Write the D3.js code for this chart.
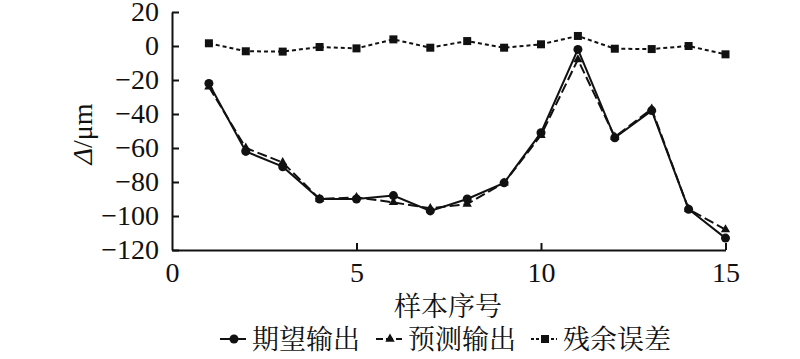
<!DOCTYPE html>
<html>
<head>
<meta charset="utf-8">
<script src="https://cdn.jsdelivr.net/npm/d3@7"></script>
<style>
  html, body { margin: 0; padding: 0; background: #fff; }
  svg { display: block; }
</style>
</head>
<body>
<svg id="chart" width="800" height="359"></svg>
<script>
// ---- data ----
const samples = [1,2,3,4,5,6,7,8,9,10,11,12,13,14,15];
const expected = [-22,-62,-71,-90,-90,-88,-97,-90,-80.5,-51,-2,-54,-38,-96,-113];
const predicted = [-24,-60,-68.5,-90,-89,-92,-95.5,-93,-80.5,-52.5,-8,-53.5,-37,-96,-108];
const residual = [1.6,-3.1,-3.3,-0.6,-1.4,3.9,-1,2.9,-1,1,5.9,-1.6,-1.8,0,-4.9];
const xTicks = [0,5,10,15];
const yTicks = [20,0,-20,-40,-60,-80,-100,-120];
const seriesNames = ["期望输出","预测输出","残余误差"];
const xTitle = "样本序号";

// ---- layout ----
const svg = d3.select("#chart");
const x = d3.scaleLinear().domain([0,15]).range([172,725.5]);
const y = d3.scaleLinear().domain([-120,20]).range([250,12]);
const numFont = '"Liberation Serif"';
const cjkFont = '"Noto Serif CJK SC"';

// axes
const yAxis = d3.axisLeft(y).tickValues(yTicks).tickSizeInner(-7).tickSizeOuter(0).tickPadding(13)
  .tickFormat(d3.format("d"));
const gy = svg.append("g").attr("transform", `translate(${x(0)},0)`).call(yAxis);
const xAxis = d3.axisBottom(x).tickValues(xTicks).tickSizeInner(-7).tickSizeOuter(0).tickPadding(12)
  .tickFormat(d3.format("d"));
const gx = svg.append("g").attr("transform", `translate(0,${y(-120)})`).call(xAxis);
[gx, gy].forEach(g => {
  g.attr("font-family", null).attr("font-size", null);
  g.select(".domain").attr("stroke", "#111").attr("stroke-width", 2);
  g.selectAll(".tick line").attr("stroke", "#111").attr("stroke-width", 2);
  g.selectAll(".tick text").attr("fill", "#111")
    .style("font-family", numFont).style("font-size", "28px");
});
gx.selectAll(".tick").filter(d => d === 0).select("line").remove();

// y title
const yt = svg.append("text")
  .attr("transform", "translate(92,134) rotate(-90)")
  .attr("text-anchor", "middle")
  .style("font-family", numFont).style("font-size", "28px")
  .attr("fill", "#111");
yt.append("tspan").style("font-style", "italic").text("Δ");
yt.append("tspan").text("/μm");

// x title
svg.append("text").attr("x", 448).attr("y", 316).attr("text-anchor", "middle")
  .style("font-family", cjkFont).style("font-size", "27px")
  .attr("fill", "#111").text(xTitle);

// series
const line = d3.line().x((d,i) => x(samples[i])).y(d => y(d));
const series = [
  { name: seriesNames[1], data: predicted, dash: "10,4", marker: "triangle" },
  { name: seriesNames[0], data: expected, dash: null, marker: "circle" },
  { name: seriesNames[2], data: residual, dash: "4,3", marker: "square" }
];
function drawMarker(g, type, cx, cy) {
  if (type === "circle") g.append("circle").attr("cx", cx).attr("cy", cy).attr("r", 4.5).attr("fill", "#111");
  else if (type === "square") g.append("rect").attr("x", cx-4).attr("y", cy-4).attr("width", 8).attr("height", 8).attr("fill", "#111");
  else g.append("path").attr("d", d3.symbol().type(d3.symbolTriangle).size(38)()).attr("transform", `translate(${cx},${cy})`).attr("fill", "#111");
}
series.forEach(s => {
  svg.append("path").datum(s.data).attr("d", line).attr("fill", "none")
    .attr("stroke", "#111").attr("stroke-width", 2)
    .attr("stroke-dasharray", s.dash);
  const g = svg.append("g");
  s.data.forEach((v,i) => drawMarker(g, s.marker, x(samples[i]), y(v)));
});

// legend
const legendItems = [
  { name: seriesNames[0], dash: null, marker: "circle", x0: 220 },
  { name: seriesNames[1], dash: "7,3", marker: "triangle", x0: 376 },
  { name: seriesNames[2], dash: "3,2", marker: "square", x0: 531 }
];
const lg = svg.append("g");
legendItems.forEach(it => {
  const ly = 339;
  lg.append("line").attr("x1", it.x0).attr("x2", it.x0 + 26).attr("y1", ly).attr("y2", ly)
    .attr("stroke", "#111").attr("stroke-width", 2).attr("stroke-dasharray", it.dash);
  const gm = lg.append("g");
  drawMarker(gm, it.marker, it.x0 + 14, ly);
  lg.append("text").attr("x", it.x0 + 32).attr("y", ly + 10)
    .style("font-family", cjkFont).style("font-size", "27px")
    .attr("fill", "#111").text(it.name);
});
</script>
</body>
</html>
